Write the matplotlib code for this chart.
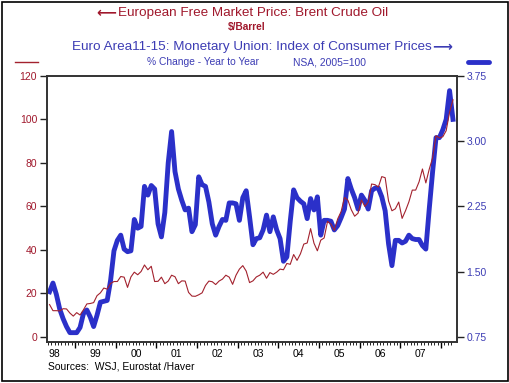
import matplotlib
matplotlib.use("Agg")
import matplotlib.pyplot as plt
import numpy as np
import pandas as pd
from matplotlib.patches import Rectangle
from matplotlib.lines import Line2D

plt.rcParams['font.family'] = ['Liberation Sans', 'DejaVu Sans']

# monthly, May 1998 - Apr 2008
months = pd.date_range("1998-05-01", "2008-04-01", freq="MS")

# Brent crude, $/barrel (left axis)
brent = [14.9, 12.1, 12.1, 12.0, 13.0, 12.9, 11.0, 9.6,
         11.2, 10.1, 12.5, 15.2, 15.4, 15.8, 19.0, 20.3, 22.5, 22.0, 24.6, 25.5,
         25.5, 27.8, 27.5, 22.8, 27.6, 29.8, 28.6, 30.1, 33.1, 30.9, 32.5, 25.5,
         25.6, 27.5, 24.5, 25.7, 28.4, 27.7, 24.5, 25.8, 25.7, 20.5, 18.8, 18.7,
         19.4, 20.3, 23.7, 25.7, 25.4, 24.1, 25.7, 26.6, 28.4, 27.5, 24.2, 28.4,
         31.2, 32.8, 30.3, 25.0, 25.8, 27.6, 28.4, 29.8, 27.0, 29.6, 28.8, 29.8,
         31.2, 30.9, 33.8, 33.4, 37.9, 35.2, 38.2, 42.7, 43.2, 49.8, 43.1, 39.6,
         44.5, 45.5, 53.1, 51.9, 49.0, 54.3, 57.6, 64.1, 62.9, 58.5, 55.5, 56.9,
         63.0, 60.0, 62.0, 70.3, 70.0, 68.9, 73.7, 73.2, 62.5, 58.0, 58.9, 62.0,
         54.5, 58.0, 62.1, 67.5, 67.5, 71.3, 77.2, 70.8, 77.1, 82.3, 92.5, 91.5,
         92.0, 94.8, 103.3, 109.0]

# Euro area consumer prices, % change y/y (right axis)
cpi = [1.27, 1.37, 1.24, 1.07, 0.96, 0.87, 0.80, 0.80,
       0.80, 0.86, 1.02, 1.06, 0.98, 0.87, 1.00, 1.15, 1.16, 1.17, 1.40, 1.74,
       1.86, 1.92, 1.76, 1.73, 1.74, 2.10, 2.00, 2.02, 2.48, 2.38, 2.49, 2.45,
       2.05, 1.90, 2.18, 2.75, 3.11, 2.65, 2.45, 2.32, 2.21, 2.23, 1.96, 2.04,
       2.59, 2.50, 2.48, 2.30, 2.05, 1.92, 2.02, 2.10, 2.09, 2.29, 2.29, 2.28,
       2.09, 2.35, 2.43, 2.13, 1.81, 1.88, 1.89, 1.98, 2.15, 1.96, 2.13, 1.98,
       1.88, 1.62, 1.67, 2.08, 2.44, 2.35, 2.31, 2.28, 2.11, 2.34, 2.21, 2.36,
       1.92, 2.09, 2.09, 2.08, 1.98, 2.03, 2.12, 2.22, 2.57, 2.45, 2.35, 2.22,
       2.38, 2.32, 2.22, 2.43, 2.46, 2.46, 2.36, 2.20, 1.82, 1.57, 1.86, 1.86,
       1.83, 1.85, 1.92, 1.88, 1.87, 1.87, 1.80, 1.76, 2.22, 2.65, 3.04, 3.04,
       3.13, 3.25, 3.58, 3.25]

years = list(range(1998, 2008))
year_labels = ["98", "99", "00", "01", "02", "03", "04", "05", "06", "07"]
left_ticks = [0, 20, 40, 60, 80, 100, 120]
right_ticks = [0.75, 1.50, 2.25, 3.00, 3.75]

red = "#a3222e"
red_txt = "#a0182c"
blue = "#2b30c9"
blue_txt = "#3c3cb4"

x = months.year + (months.month - 0.5) / 12.0

fig = plt.figure(figsize=(5.1, 3.83), dpi=100)
ax = fig.add_axes([0.092, 0.107, 0.804, 0.695])
ax2 = ax.twinx()

ax2.plot(x, cpi, color=blue, lw=3.5, solid_joinstyle="round")
ax.plot(x, brent, color=red, lw=0.8)
ax.set_zorder(ax2.get_zorder() + 1)
ax.patch.set_visible(False)

ax.set_xlim(1998.31, 2008.39)
ax.set_ylim(-2.3, 120)
ax2.set_ylim(0.75 - 2.3 / 40, 3.75)

ax.set_yticks(left_ticks)
ax.set_yticklabels([str(v) for v in left_ticks], color=red_txt, fontsize=7.5)
ax2.set_yticks(right_ticks)
ax2.set_yticklabels(["%.2f" % v for v in right_ticks], color=blue_txt, fontsize=7.5)

ax.set_xticks(np.arange(1999, 2009))
ax.set_xticklabels([])
ax.set_xticks(months.year + (months.month - 1) / 12.0, minor=True)
ax.tick_params(axis="x", which="major", direction="out", length=4, width=1)
ax.tick_params(axis="x", which="minor", direction="out", length=2, width=0.6)
ax.tick_params(axis="y", direction="out", length=5, width=1, pad=2, colors="#222222", labelcolor=red_txt)
ax2.tick_params(axis="y", direction="out", length=5, width=1, pad=2, colors="#222222", labelcolor=blue_txt)
for y, lab in zip(years, year_labels):
    ax.text(y + 0.5, -0.025, lab, transform=ax.get_xaxis_transform(),
            ha="center", va="top", fontsize=7.5)

for a in (ax, ax2):
    for s in a.spines.values():
        s.set_color("#333333")
        s.set_linewidth(1.2)

# titles
fig.text(116 / 510, 0.966, "\u27f5", ha="right", va="center", fontsize=10,
         color=red_txt, fontweight="bold", family="DejaVu Sans")
fig.text(118 / 510, 0.966, "European Free Market Price: Brent Crude Oil",
         ha="left", va="center", fontsize=9.7, color=red_txt)
fig.text(0.484, 0.930, "$/Barrel", ha="center", va="center", fontsize=7.3,
         color=red_txt, fontweight="bold")
fig.text(72 / 510, 0.877, "Euro Area11-15: Monetary Union: Index of Consumer Prices",
         ha="left", va="center", fontsize=9.7, color=blue_txt)
fig.text(432 / 510, 0.877, "\u27f6", ha="left", va="center", fontsize=10,
         color=blue_txt, fontweight="bold", family="DejaVu Sans")
fig.text(147 / 510, 0.838, "% Change - Year to Year", ha="left", va="center",
         fontsize=7.4, color=blue_txt)
fig.text(293 / 510, 0.838, "NSA, 2005=100", ha="left", va="center",
         fontsize=7.4, color=blue_txt)
fig.add_artist(Line2D([0.030, 0.074], [0.838, 0.838], color=red, lw=1.0))
fig.add_artist(Line2D([0.918, 0.958], [0.838, 0.838], color=blue, lw=3.5,
                      solid_capstyle="round"))
fig.text(0.094, 0.043, "Sources:  WSJ, Eurostat /Haver", ha="left", va="center",
         fontsize=7.5)

fig.add_artist(Rectangle((0.003, 0.006), 0.993, 0.988, transform=fig.transFigure,
                         fill=False, edgecolor="black", lw=1.2))

fig.savefig("out.png", dpi=100)
